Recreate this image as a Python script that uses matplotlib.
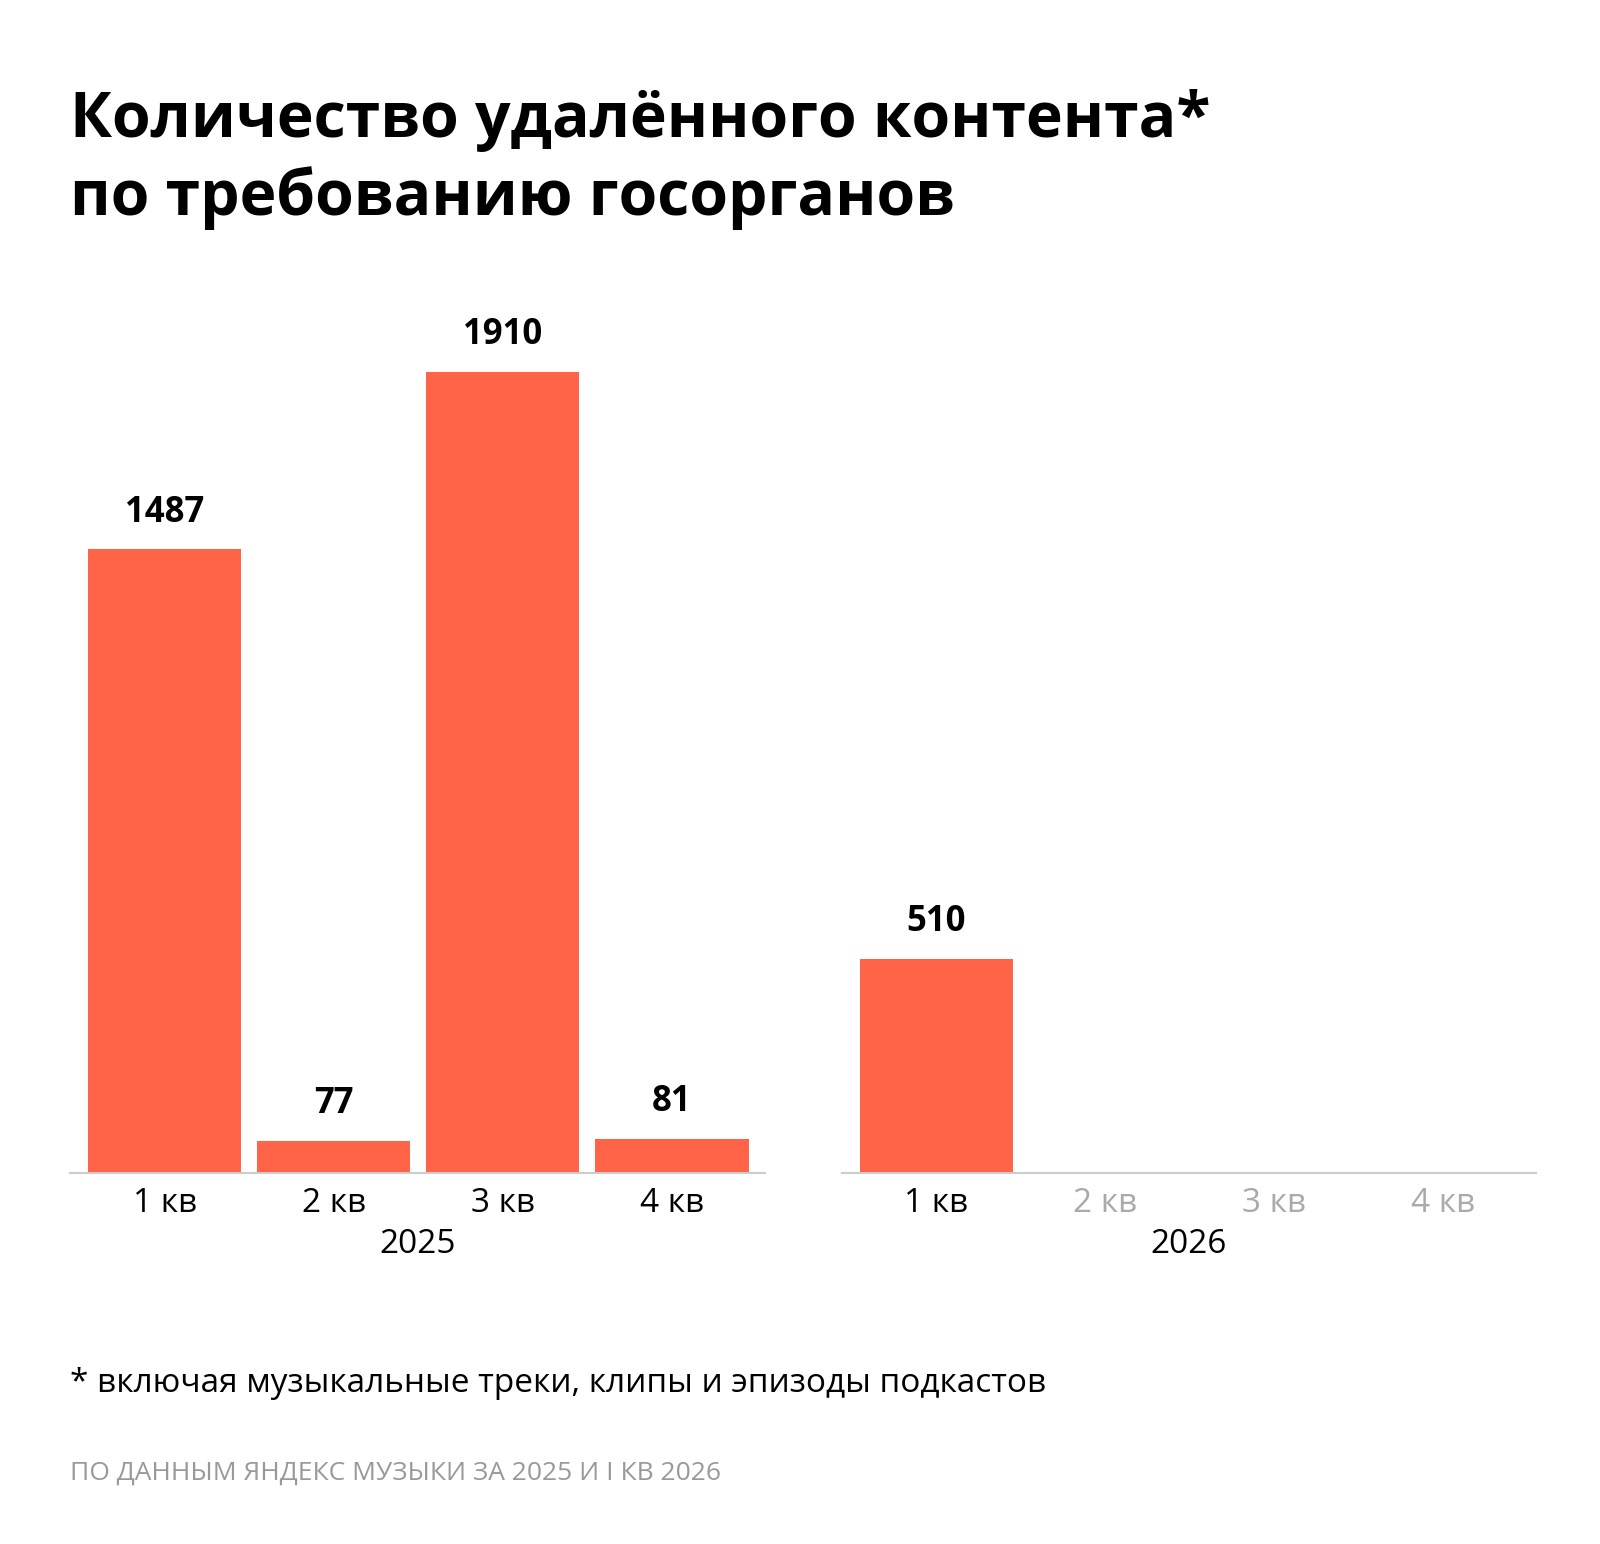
import matplotlib.pyplot as plt

plt.rcParams['font.family'] = ['Open Sans', 'DejaVu Sans']

quarters = ['1 кв', '2 кв', '3 кв', '4 кв']
values_2025 = [1487, 77, 1910, 81]
values_2026 = [510]
bar_color = '#FF6449'

W, H = 1600, 1544
fig = plt.figure(figsize=(W / 100, H / 100), dpi=100)

def px_axes(x0, x1):
    bottom = 1 - 1173 / H
    height = 2100 * (801 / 1910) / H
    return fig.add_axes([x0 / W, bottom, (x1 - x0) / W, height])

def style(ax, year, vals, grey_from):
    ax.bar(range(len(vals)), vals, width=0.905, color=bar_color)
    for i, v in enumerate(vals):
        ax.text(i, v + 45, str(v), ha='center', va='bottom', fontsize=25, fontweight='bold')
    ax.set_xlim(-0.56, 3.55)
    ax.set_ylim(0, 2100)
    ax.set_xticks(range(4))
    ax.set_xticklabels(quarters, fontsize=24)
    for i, lab in enumerate(ax.get_xticklabels()):
        if i >= grey_from:
            lab.set_color('#aaaaaa')
    ax.tick_params(axis='x', length=0, pad=10)
    ax.set_yticks([])
    for s in ['top', 'left', 'right']:
        ax.spines[s].set_visible(False)
    ax.spines['bottom'].set_color('#cccccc')
    ax.spines['bottom'].set_linewidth(1.5)
    ax.set_xlabel(year, fontsize=24, labelpad=6)

ax1 = px_axes(70, 765)
style(ax1, '2025', values_2025, 4)
ax2 = px_axes(842, 1536)
style(ax2, '2026', values_2026, 1)

fig.text(70 / W, 1 - 137 / H, 'Количество удалённого контента*', fontsize=45, fontweight='bold', va='baseline')
fig.text(70 / W, 1 - 215 / H, 'по требованию госорганов', fontsize=45, fontweight='bold', va='baseline')
fig.text(70 / W, 1 - 1392 / H, '* включая музыкальные треки, клипы и эпизоды подкастов', fontsize=24, va='baseline')
fig.text(70 / W, 1 - 1480 / H, 'ПО ДАННЫМ ЯНДЕКС МУЗЫКИ ЗА 2025 И I КВ 2026', fontsize=19, color='#999999', va='baseline')

fig.savefig('out.png', dpi=100, facecolor='white')
